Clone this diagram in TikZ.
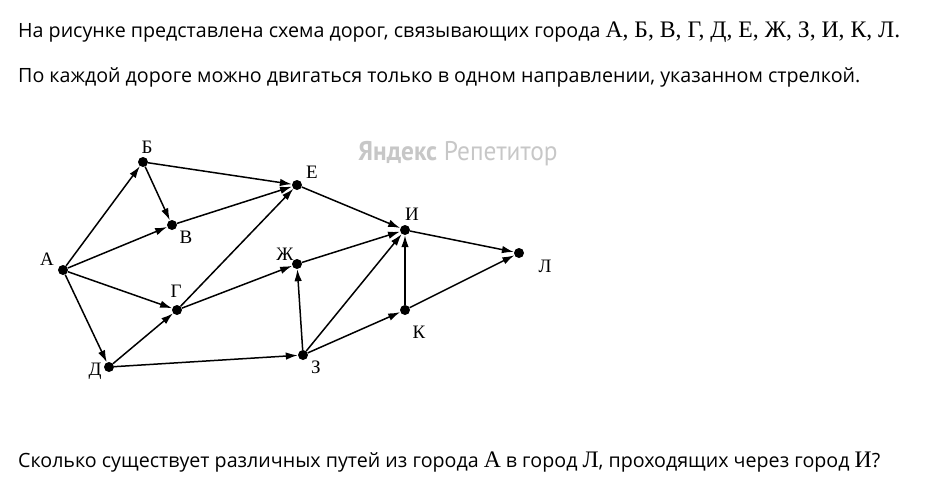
\documentclass[tikz,border=0pt]{standalone}
\usepackage{fontspec}
\setmainfont{Open Sans}
\newfontfamily\tms{Liberation Serif}
\newfontfamily\wmfont{PT Sans}
\usetikzlibrary{arrows.meta}
\newcommand\tl[1]{{\tms\fontsize{23.7}{22}\selectfont #1}}
\begin{document}
\begin{tikzpicture}[x=1pt,y=-1pt,
  city/.style={circle,fill=black,inner sep=0pt,minimum size=10pt},
  lbl/.style={font=\tms\fontsize{19}{19}\selectfont,inner sep=0pt},
  road/.style={line width=1.5pt,-{Latex[length=12pt,width=7.5pt]}},
  txt/.style={anchor=west,inner sep=0pt,font=\fontsize{19.65}{22}\selectfont}]
\useasboundingbox (0,0) rectangle (933,498);
\node[txt] (t1) at (18,32) {На рисунке представлена схема дорог, связывающих города \tl{А, Б, В, Г, Д, Е, Ж, З, И, К, Л.}};
\node[txt] (t2) at (18,77) {По каждой дороге можно двигаться только в одном направлении, указанном стрелкой.};
\node[txt] (t3) at (18,462) {Сколько существует различных путей из города \tl{А} в город \tl{Л}, проходящих через город \tl{И}?};
\node[inner sep=0pt,text=black!22,font=\wmfont\fontsize{27}{27}\selectfont,xscale=0.94] (wm) at (458,154) {\textbf{Яндекс} Репетитор};

\node[city] (A) at (63,270) {};
\node[city] (B) at (143,162) {};
\node[city] (V) at (172,225) {};
\node[city] (E) at (297,185) {};
\node[city] (Zh) at (297,264) {};
\node[city] (G) at (177,310) {};
\node[city] (D) at (109,367) {};
\node[city] (Z) at (303,355) {};
\node[city] (I) at (405,230) {};
\node[city] (K) at (405,310) {};
\node[city] (L) at (519,253) {};

\node[lbl] (lA) at (47,259) {А};
\node[lbl] (lB) at (147,147) {Б};
\node[lbl] (lV) at (186,237) {В};
\node[lbl] (lE) at (312,172) {Е};
\node[lbl] (lZh) at (285,254) {Ж};
\node[lbl] (lG) at (176,291) {Г};
\node[lbl] (lD) at (95,371) {Д};
\node[lbl] (lZ) at (316,367) {З};
\node[lbl] (lI) at (412,214) {И};
\node[lbl] (lK) at (419,332) {К};
\node[lbl] (lL) at (545,266) {Л};

\draw[road] (A) -- (B);
\draw[road] (A) -- (V);
\draw[road] (A) -- (G);
\draw[road] (A) -- (D);
\draw[road] (B) -- (E);
\draw[road] (B) -- (V);
\draw[road] (V) -- (E);
\draw[road] (G) -- (E);
\draw[road] (G) -- (Zh);
\draw[road] (D) -- (G);
\draw[road] (D) -- (Z);
\draw[road] (Z) -- (Zh);
\draw[road] (Z) -- (I);
\draw[road] (Z) -- (K);
\draw[road] (Zh) -- (I);
\draw[road] (E) -- (I);
\draw[road] (I) -- (L);
\draw[road] (K) -- (I);
\draw[road] (K) -- (L);
\end{tikzpicture}
\end{document}
